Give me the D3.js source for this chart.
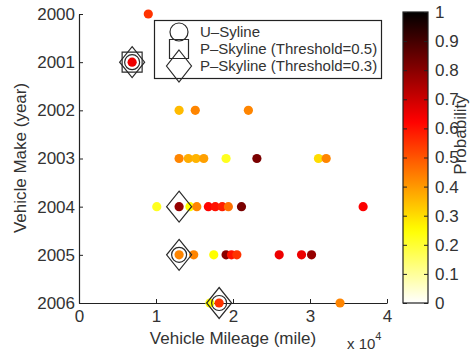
<!DOCTYPE html>
<html><head><meta charset="utf-8">
<script src="https://cdn.jsdelivr.net/npm/d3@7"></script>
<style>
body{margin:0;background:#fff;}
text{font-family:"Liberation Sans",Arial,sans-serif;fill:#333;}
</style></head>
<body><svg id="c" width="470" height="352"></svg>
<script>
// ---- data ----
const yearTicks = [2000, 2001, 2002, 2003, 2004, 2005, 2006];
const mileageTicks = [0, 1, 2, 3, 4];
const probTicks = [0, 0.1, 0.2, 0.3, 0.4, 0.5, 0.6, 0.7, 0.8, 0.9, 1];
// vehicle mileage (x 10^4 miles), year, existence probability
const mileage = [0.90, 0.69,
  1.30, 1.51, 2.20,
  1.30, 1.42, 1.52, 1.62, 1.91, 2.31, 3.11, 3.21,
  1.01, 1.30, 1.44, 1.53, 1.68, 1.77, 1.86, 1.94, 2.11, 3.69,
  1.30, 1.49, 1.75, 1.91, 1.98, 2.05, 2.60, 2.89, 3.02,
  1.70, 1.82, 3.39];
const year = [2000, 2001,
  2002, 2002, 2002,
  2003, 2003, 2003, 2003, 2003, 2003, 2003, 2003,
  2004, 2004, 2004, 2004, 2004, 2004, 2004, 2004, 2004, 2004,
  2005, 2005, 2005, 2005, 2005, 2005, 2005, 2005, 2005,
  2006, 2006, 2006];
const prob = [0.55, 0.65,
  0.35, 0.43, 0.43,
  0.43, 0.37, 0.36, 0.39, 0.22, 0.82, 0.30, 0.43,
  0.22, 0.78, 0.25, 0.43, 0.62, 0.60, 0.58, 0.46, 0.82, 0.63,
  0.43, 0.43, 0.25, 0.80, 0.60, 0.55, 0.65, 0.65, 0.78,
  0.25, 0.55, 0.43];
// skyline results: [mileage, year]
const uSkyline = [[0.69, 2001], [1.30, 2005], [1.82, 2006]];
const pSkyline05 = [[0.69, 2001]];
const pSkyline03 = [[0.69, 2001], [1.30, 2004], [1.30, 2005], [1.82, 2006]];
const legendLabels = ["U\u2013Syline", "P\u2013Skyline (Threshold=0.5)", "P\u2013Skyline (Threshold=0.3)"];

// ---- helpers ----
function hotRev(p) { // flipud(hot)
  const t = 1 - p;
  const r = Math.min(1, t / 0.375);
  const g = Math.max(0, Math.min(1, (t - 0.375) / 0.375));
  const b = Math.max(0, Math.min(1, (t - 0.75) / 0.25));
  return d3.rgb(r * 255, g * 255, b * 255).toString();
}
const circleSym = (s) => { const p = d3.path(); p.arc(0, 0, s, 0, 2 * Math.PI); return p.toString(); };
const squareSym = (s) => `M${-s},${-s}H${s}V${s}H${-s}Z`;
const diamondSym = (w, h) => `M0,${-h}L${w},0L0,${h}L${-w},0Z`;

const svg = d3.select("#c");
const x = d3.scaleLinear().domain([0, 4]).range([79, 387]);
const y = d3.scaleLinear().domain([2000, 2006]).range([14, 303]);
const FS = 17;

// axes
const gx = svg.append("g").attr("transform", "translate(0,303)")
  .call(d3.axisBottom(x).tickValues(mileageTicks).tickFormat(d3.format("d")).tickSizeInner(-4).tickSizeOuter(0).tickPadding(7));
const gy = svg.append("g").attr("transform", "translate(79,0)")
  .call(d3.axisLeft(y).tickValues(yearTicks).tickFormat(d3.format("d")).tickSizeInner(-4).tickSizeOuter(0).tickPadding(4));
[gx, gy].forEach(g => {
  g.select(".domain").attr("stroke", "#222").attr("stroke-width", 1.2);
  g.selectAll(".tick line").attr("stroke", "#222");
  g.selectAll("text").attr("font-size", FS).attr("fill", "#333").attr("font-family", "Liberation Sans, Arial, sans-serif");
});

svg.append("text").attr("x", 233).attr("y", 344).attr("text-anchor", "middle").attr("font-size", FS).text("Vehicle Mileage (mile)");
svg.append("text").attr("transform", "translate(26,158) rotate(-90)").attr("text-anchor", "middle").attr("font-size", FS).text("Vehicle Make (year)");
const ex = svg.append("text").attr("x", 347).attr("y", 349).attr("font-size", 15);
ex.append("tspan").text("x 10");
ex.append("tspan").attr("dy", -9).attr("font-size", 11).text("4");

// points
const idx = d3.range(mileage.length);
svg.append("g").selectAll("circle").data(idx).join("circle")
  .attr("cx", i => x(mileage[i])).attr("cy", i => y(year[i])).attr("r", 4.6)
  .attr("fill", i => hotRev(prob[i]));

// skyline markers
const mk = svg.append("g").attr("fill", "none").attr("stroke", "#2a2a2a").attr("stroke-width", 1.2);
mk.selectAll("path.c").data(uSkyline).join("path").attr("class", "c")
  .attr("transform", d => `translate(${x(d[0])},${y(d[1])})`).attr("d", circleSym(7.5));
mk.selectAll("path.s").data(pSkyline05).join("path").attr("class", "s")
  .attr("transform", d => `translate(${x(d[0])},${y(d[1])})`).attr("d", squareSym(10));
mk.selectAll("path.d").data(pSkyline03).join("path").attr("class", "d")
  .attr("transform", d => `translate(${x(d[0])},${y(d[1])})`).attr("d", diamondSym(12.5, 15.5));

// legend
const lg = svg.append("g");
lg.append("rect").attr("x", 154.5).attr("y", 20.5).attr("width", 227).attr("height", 58)
  .attr("fill", "#fff").attr("stroke", "#222").attr("stroke-width", 1.2);
const lgY = [32, 49, 66];
const lgM = lg.append("g").attr("fill", "none").attr("stroke", "#2a2a2a").attr("stroke-width", 1.2);
lgM.append("path").attr("transform", `translate(179,${lgY[0]})`).attr("d", circleSym(9));
lgM.append("path").attr("transform", `translate(179,${lgY[1]})`).attr("d", squareSym(9.5));
lgM.append("path").attr("transform", `translate(179,${lgY[2]})`).attr("d", diamondSym(12.5, 16));
lg.selectAll("text").data(legendLabels).join("text")
  .attr("x", 200).attr("y", (d, i) => lgY[i]).attr("dy", "0.35em").attr("font-size", 15).text(d => d);

// colorbar
const cb = d3.scaleLinear().domain([0, 1]).range([303, 12]);
const defs = svg.append("defs");
const grad = defs.append("linearGradient").attr("id", "hotg").attr("x1", 0).attr("y1", 1).attr("x2", 0).attr("y2", 0);
d3.range(0, 1.0001, 0.02).forEach(p => grad.append("stop").attr("offset", p).attr("stop-color", hotRev(p)));
svg.append("rect").attr("x", 403).attr("y", 12).attr("width", 25).attr("height", 291)
  .attr("fill", "url(#hotg)").attr("stroke", "#222").attr("stroke-width", 1.2);
const gcr = svg.append("g").attr("transform", "translate(428,0)")
  .call(d3.axisRight(cb).tickValues(probTicks).tickFormat(d => String(+d.toFixed(1))).tickSizeInner(-4).tickSizeOuter(0).tickPadding(7));
const gcl = svg.append("g").attr("transform", "translate(403,0)")
  .call(d3.axisLeft(cb).tickValues(probTicks).tickFormat("").tickSizeInner(-4).tickSizeOuter(0));
[gcr, gcl].forEach(g => {
  g.select(".domain").remove();
  g.selectAll(".tick line").attr("stroke", "#222");
  g.selectAll("text").attr("font-size", FS).attr("fill", "#333").attr("font-family", "Liberation Sans, Arial, sans-serif");
});
svg.append("text").attr("transform", "translate(466,135) rotate(-90)").attr("text-anchor", "middle").attr("font-size", 17).text("Probability");
</script></body></html>
